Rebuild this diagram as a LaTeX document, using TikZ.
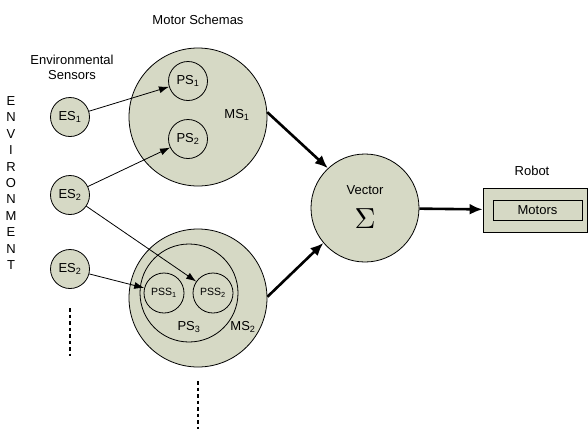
\documentclass[tikz,border=0pt]{standalone}
\usepackage{fontspec}
\setmainfont{Liberation Sans}
\usetikzlibrary{arrows.meta}
\definecolor{fillg}{RGB}{214,217,197}
\begin{document}
\begin{tikzpicture}[x=1pt,y=-1pt,
  circ/.style={circle,draw=black,fill=fillg,line width=0.8pt,inner sep=0pt},
  thinarr/.style={line width=0.8pt,-{Latex[length=10pt,width=7pt]}},
  thickarr/.style={line width=2.6pt,-{Latex[length=13pt,width=11pt]}},
  lbl/.style={font=\fontsize{13}{15}\selectfont,inner sep=0pt},
  dotl/.style={line width=2.6pt,dash pattern=on 3.5pt off 3pt}]
\useasboundingbox (0,0) rectangle (588,429);
% motor schema 1
\node[circ,minimum size=138pt] (ms1) at (198,117) {};
\node[circ,minimum size=39pt] (ps1) at (188,81) {};
\node[circ,minimum size=39pt] (ps2) at (188,139) {};
\node[lbl] at (188,81) {PS\textsubscript{1}};
\node[lbl] at (188,139) {PS\textsubscript{2}};
\node[lbl] (ms1l) at (237,115) {MS\textsubscript{1}};
% motor schema 2
\node[circ,minimum size=138pt] (ms2) at (198,298) {};
\node[circ,minimum size=98pt] (ps3) at (189,293) {};
\node[circ,minimum size=40pt] (pss1) at (164,293) {};
\node[circ,minimum size=40pt] (pss2) at (213,293) {};
\node[lbl,font=\fontsize{10.5}{12}\selectfont] at (164,293) {PSS\textsubscript{1}};
\node[lbl,font=\fontsize{10.5}{12}\selectfont] at (213,293) {PSS\textsubscript{2}};
\node[lbl] at (189,327) {PS\textsubscript{3}};
\node[lbl] at (243,327) {MS\textsubscript{2}};
% sensors
\node[circ,minimum size=39pt] (es1) at (70,117) {};
\node[circ,minimum size=39pt] (es2) at (70,195) {};
\node[circ,minimum size=39pt] (es3) at (70,269) {};
\node[lbl] at (70,117) {ES\textsubscript{1}};
\node[lbl] at (70,195) {ES\textsubscript{2}};
\node[lbl] at (70,269) {ES\textsubscript{2}};
% vector
\node[circ,minimum size=108pt] (vec) at (365,208) {};
\node[lbl] at (365,190) {Vector};
\node[inner sep=0pt,scale=2.9] at (365,219) {$\Sigma$};
% robot
\node[draw=black,fill=fillg,line width=0.8pt,minimum width=104pt,minimum height=44pt,inner sep=0pt] (robot) at (535,210) {};
\node[draw=black,line width=0.8pt,minimum width=89pt,minimum height=20pt,inner sep=0pt,lbl] (motors) at (537.5,210) {Motors};
\node[lbl] at (532,171) {Robot};
% titles
\node[lbl] at (198,20) {Motor Schemas};
\node[lbl,align=center] at (72,67) {Environmental\\Sensors};
\foreach \ch [count=\i from 0] in {E,N,V,I,R,O,N,M,E,N,T}
  \node[lbl] at (11,{101+16.4*\i}) {\ch};
% connectors
\draw[thinarr] (es1) -- (ps1);
\draw[thinarr] (es2) -- (ps2);
\draw[thinarr] (es2) -- (pss2);
\draw[thinarr] (es3) -- (pss1);
\draw[thickarr] (ms1.4) -- (vec.133);
\draw[thickarr] (ms2.1) -- (vec.-140);
\draw[thickarr] (vec) -- (robot);
% dots
\coordinate (d1a) at (70,308);
\coordinate (d1b) at (70,356);
\coordinate (d2a) at (198,381);
\coordinate (d2b) at (198,429);
\draw[dotl] (d1a) -- (d1b);
\draw[dotl] (d2a) -- (d2b);
\end{tikzpicture}
\end{document}
